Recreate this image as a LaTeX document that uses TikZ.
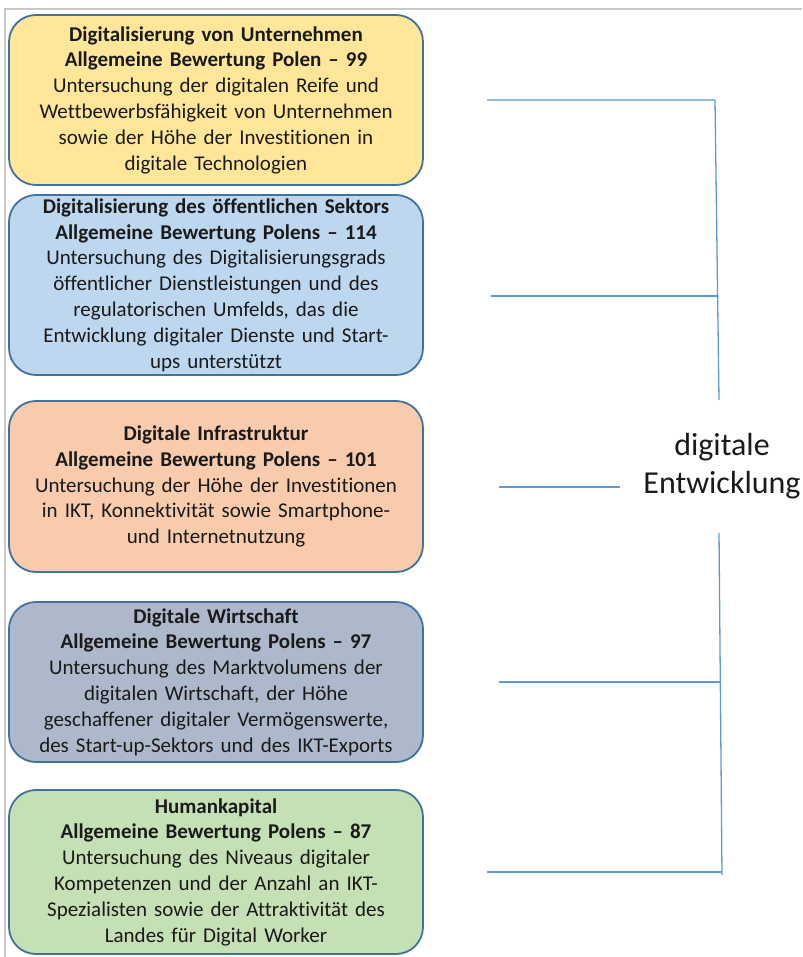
\documentclass[tikz,border=0pt]{standalone}
\usepackage{fontspec}
\setmainfont{Carlito}[Ligatures={NoCommon}]
\definecolor{cyellow}{HTML}{FFE699}
\definecolor{cblue}{HTML}{BDD7EE}
\definecolor{corange}{HTML}{F8CBAD}
\definecolor{cslate}{HTML}{ADB9CA}
\definecolor{cgreen}{HTML}{C5E0B4}
\definecolor{cborder}{HTML}{41719C}
\definecolor{cline}{HTML}{5B9BD5}
\definecolor{cframe}{HTML}{C8C8C8}
\definecolor{ctext}{HTML}{1A1A1A}
\tikzset{
  infobox/.style={draw=cborder, line width=1.8pt, rounded corners=27pt,
    minimum width=414pt, inner sep=0pt, text width=405pt, align=center,
    text=ctext, font=\fontsize{21}{25.8}\selectfont},
  link/.style={draw=cline, line width=1.3pt},
  framerule/.style={draw=cframe, line width=2pt}
}
\begin{document}
\begin{tikzpicture}[x=1pt,y=-1pt]
\useasboundingbox (0,0) rectangle (802,957);
\draw[framerule] (4,9) -- (802,9);
\draw[framerule] (5,9) -- (5,957);

\node[infobox, fill=cyellow, minimum height=170pt] (b1) at (216,100) {%
\textbf{Digitalisierung von Unternehmen}\\
\textbf{Allgemeine Bewertung Polen \textendash{} 99}\\
Untersuchung der digitalen Reife und\\
Wettbewerbsfähigkeit von Unternehmen\\
sowie der Höhe der Investitionen in\\
digitale Technologien};

\node[infobox, fill=cblue, minimum height=180pt] (b2) at (216,285) {%
\textbf{Digitalisierung des öffentlichen Sektors}\\
\textbf{Allgemeine Bewertung Polens \textendash{} 114}\\
Untersuchung des Digitalisierungsgrads\\
öffentlicher Dienstleistungen und des\\
regulatorischen Umfelds, das die\\
Entwicklung digitaler Dienste und Start-\\
ups unterstützt};

\node[infobox, fill=corange, minimum height=171pt] (b3) at (216,486.5) {%
\textbf{Digitale Infrastruktur}\\
\textbf{Allgemeine Bewertung Polens \textendash{} 101}\\
Untersuchung der Höhe der Investitionen\\
in IKT, Konnektivität sowie Smartphone-\\
und Internetnutzung};

\node[infobox, fill=cslate, minimum height=160pt] (b4) at (216,682) {%
\textbf{Digitale Wirtschaft}\\
\textbf{Allgemeine Bewertung Polens \textendash{} 97}\\
Untersuchung des Marktvolumens der\\
digitalen Wirtschaft, der Höhe\\
geschaffener digitaler Vermögenswerte,\\
des Start-up-Sektors und des IKT-Exports};

\node[infobox, fill=cgreen, minimum height=164pt] (b5) at (216,872) {%
\textbf{Humankapital}\\
\textbf{Allgemeine Bewertung Polens \textendash{} 87}\\
Untersuchung des Niveaus digitaler\\
Kompetenzen und der Anzahl an IKT-\\
Spezialisten sowie der Attraktivität des\\
Landes für Digital Worker};

\node[align=center, inner sep=0pt, text=ctext, font=\fontsize{32}{38.5}\selectfont] (de) at (722,466) {digitale\\Entwicklung};

\coordinate (h1) at (487,100);
\coordinate (j1) at (715,100);
\coordinate (h2) at (491,296);
\coordinate (j2) at (716.5,296);
\coordinate (vt) at (719,400);
\coordinate (h3) at (499,487);
\coordinate (h3e) at (620,487);
\coordinate (vb) at (719,533);
\coordinate (h4) at (499,682);
\coordinate (j4) at (720,682);
\coordinate (h5) at (487,872);
\coordinate (j5) at (722,872);
\coordinate (ve) at (722,875);

\draw[link] (h1) -- (j1) -- (vt);
\draw[link] (h2) -- (j2);
\draw[link] (h3) -- (h3e);
\draw[link] (vb) -- (ve);
\draw[link] (h4) -- (j4);
\draw[link] (h5) -- (j5);
\end{tikzpicture}
\end{document}
